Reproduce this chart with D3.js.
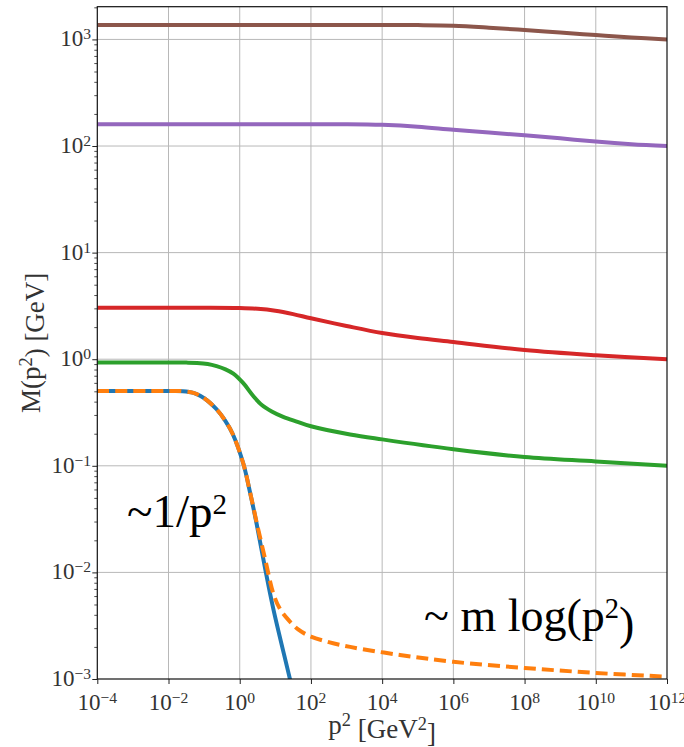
<!DOCTYPE html>
<html>
<head>
<meta charset="utf-8">
<script src="https://cdn.jsdelivr.net/npm/d3@7"></script>
<style>
  html, body { margin: 0; padding: 0; background: #fff; }
  svg { display: block; }
</style>
</head>
<body>
<svg id="chart" width="684" height="747"></svg>
<script>
// Running mass M(p^2) for several quark masses, log-log axes.

// x-axis tick values (p^2 in GeV^2) and y-axis tick values (M in GeV)
const xTickValues = [1e-4, 1e-2, 1e0, 1e2, 1e4, 1e6, 1e8, 1e10, 1e12];
const yTickValues = [1e-3, 1e-2, 1e-1, 1e0, 1e1, 1e2, 1e3];

// Chiral limit (solid blue)
const blueP2 = [1e-4, 1e-2, 0.0251, 0.0501, 0.0794, 0.126, 0.224, 0.398, 0.631, 1.259, 1.95, 3.02, 5.13, 8.71, 25.7, 63.1];
const blueM  = [0.503, 0.503, 0.501, 0.484, 0.452, 0.407, 0.339, 0.263, 0.200, 0.105, 0.0562, 0.0280, 0.0110, 0.00460, 0.00100, 0.00028];

// Small current mass (dashed orange)
const orangeP2 = [1e-4, 1e-2, 0.0251, 0.0501, 0.0794, 0.126, 0.224, 0.398, 0.631, 1.259, 1.95, 3.02, 5.13, 8.71, 13.2, 21.4, 44.7, 100, 316, 1.26e3, 3.16e4, 1e6, 1e8, 1e10, 1e12];
const orangeM  = [0.503, 0.503, 0.501, 0.484, 0.452, 0.407, 0.339, 0.263, 0.200, 0.105, 0.0565, 0.0290, 0.0135, 0.0064, 0.0046, 0.0037, 0.0029, 0.0025, 0.00222, 0.0020, 0.00168, 0.00145, 0.00127, 0.00114, 0.00105];

// Green
const greenP2 = [1e-4, 1e-2, 0.0316, 0.0631, 0.126, 0.224, 0.398, 0.661, 1.259, 2.40, 4.17, 7.94, 16.6, 39.8, 100, 1.26e3, 1e4, 1e6, 1e8, 1e10, 1e12];
const greenM  = [0.93, 0.93, 0.929, 0.923, 0.902, 0.861, 0.804, 0.733, 0.596, 0.452, 0.372, 0.324, 0.288, 0.260, 0.235, 0.197, 0.177, 0.143, 0.121, 0.110, 0.100];

// Red
const redP2 = [1e-4, 1e-2, 1e-1, 1e0, 3.2, 10, 31.6, 100, 1e3, 1e4, 1e5, 1e6, 1e8, 1e10, 1e12];
const redM  = [3.04, 3.04, 3.04, 3.02, 2.97, 2.85, 2.65, 2.42, 2.05, 1.76, 1.58, 1.45, 1.22, 1.09, 1.00];

// Purple
const purpleP2 = [1e-4, 1e0, 1e2, 1e3, 1e4, 1e5, 1e6, 1e7, 1e8, 1e9, 1e10, 1e11, 1e12];
const purpleM  = [160, 160, 160, 160, 158, 152, 142, 134, 126, 118, 110, 104, 100];

// Brown
const brownP2 = [1e-4, 1e0, 1e4, 1e5, 1e6, 1e7, 1e8, 1e9, 1e10, 1e11, 1e12];
const brownM  = [1365, 1365, 1365, 1362, 1345, 1290, 1225, 1160, 1100, 1045, 1000];

const seriesList = [
  { p2: brownP2,  m: brownM,  color: "#8c564b" },
  { p2: purpleP2, m: purpleM, color: "#9467bd" },
  { p2: redP2,    m: redM,    color: "#d62728" },
  { p2: greenP2,  m: greenM,  color: "#2ca02c" },
  { p2: blueP2,   m: blueM,   color: "#1f77b4" },
  { p2: orangeP2, m: orangeM, color: "#ff7f0e", dash: "12,6" }
];

const serif = "'Liberation Serif', 'DejaVu Serif', serif";
const svg = d3.select("#chart");

const plotLeft = 97.3, plotRight = 667, plotTop = 6.7, plotBottom = 679;
const x = d3.scaleLog().domain([1e-4, 1e12]).range([plotLeft, plotRight]);
const y = d3.scaleLog().domain([1e-3, Math.pow(10, 3.307)]).range([plotBottom, plotTop]);

const sup = v => {
  const e = Math.round(Math.log10(v));
  return e < 0 ? "\u2212" + (-e) : String(e);
};

// grid
const grid = svg.append("g");
grid.selectAll("line.gx").data(xTickValues.slice(1, -1)).join("line")
  .attr("x1", d => x(d)).attr("x2", d => x(d))
  .attr("y1", plotTop).attr("y2", plotBottom)
  .attr("stroke", "#b8b8b8").attr("stroke-width", 1);
grid.selectAll("line.gy").data(yTickValues.slice(1)).join("line")
  .attr("x1", plotLeft).attr("x2", plotRight)
  .attr("y1", d => y(d)).attr("y2", d => y(d))
  .attr("stroke", "#b8b8b8").attr("stroke-width", 1);

// curves
svg.append("defs").append("clipPath").attr("id", "plotClip")
  .append("rect").attr("x", plotLeft).attr("y", plotTop)
  .attr("width", plotRight - plotLeft).attr("height", plotBottom - plotTop);

const line = d3.line()
  .x(d => x(d[0])).y(d => y(d[1]))
  .curve(d3.curveCatmullRom.alpha(0.5));

const plot = svg.append("g").attr("clip-path", "url(#plotClip)");
seriesList.forEach(s => {
  const pts = s.p2.map((p, i) => [p, s.m[i]]);
  plot.append("path")
    .attr("d", line(pts))
    .attr("fill", "none")
    .attr("stroke", s.color)
    .attr("stroke-width", 4)
    .attr("stroke-dasharray", s.dash || null);
});

// axes (ticks only; labels drawn with superscripts below)
const xAxis = d3.axisBottom(x).tickValues(xTickValues).tickFormat("").tickSize(5).tickSizeOuter(0);
svg.append("g").attr("transform", `translate(0,${plotBottom})`).call(xAxis)
  .call(g => g.select(".domain").remove())
  .call(g => g.selectAll("line").attr("stroke", "#222").attr("stroke-width", 1));

const minorY = [];
for (let e = -3; e <= 3; e++) for (let k = 2; k <= 9; k++) {
  const v = k * Math.pow(10, e);
  if (v < y.domain()[1]) minorY.push(v);
}
svg.append("g").attr("transform", `translate(${plotLeft},0)`)
  .call(d3.axisLeft(y).tickValues(yTickValues).tickFormat("").tickSize(5).tickSizeOuter(0))
  .call(g => g.select(".domain").remove())
  .call(g => g.selectAll("line").attr("stroke", "#222").attr("stroke-width", 1));
svg.append("g").attr("transform", `translate(${plotLeft},0)`)
  .call(d3.axisLeft(y).tickValues(minorY).tickFormat("").tickSize(3).tickSizeOuter(0))
  .call(g => g.select(".domain").remove())
  .call(g => g.selectAll("line").attr("stroke", "#222").attr("stroke-width", 0.8));

// frame
svg.append("rect").attr("x", plotLeft).attr("y", plotTop)
  .attr("width", plotRight - plotLeft).attr("height", plotBottom - plotTop)
  .attr("fill", "none").attr("stroke", "#111").attr("stroke-width", 1.2);

// tick labels
function powerLabel(sel, v) {
  sel.append("tspan").text("10");
  sel.append("tspan").attr("dy", "-0.45em").attr("font-size", "0.68em").text(sup(v));
}
svg.append("g").selectAll("text").data(xTickValues).join("text")
  .attr("x", d => x(d)).attr("y", 710)
  .attr("text-anchor", "middle")
  .attr("font-family", serif).attr("font-size", 23).attr("fill", "#333")
  .each(function (d) { powerLabel(d3.select(this), d); });
svg.append("g").selectAll("text").data(yTickValues).join("text")
  .attr("x", 91).attr("y", d => y(d) + 7)
  .attr("text-anchor", "end")
  .attr("font-family", serif).attr("font-size", 23).attr("fill", "#333")
  .each(function (d) { powerLabel(d3.select(this), d); });

// axis titles
const xt = svg.append("text").attr("x", (plotLeft + plotRight) / 2).attr("y", 734)
  .attr("text-anchor", "middle").attr("font-family", serif)
  .attr("font-size", 27).attr("fill", "#333");
xt.append("tspan").text("p");
xt.append("tspan").attr("dy", "-0.45em").attr("font-size", "0.68em").text("2");
xt.append("tspan").attr("dy", "0.45em").text(" [GeV");
xt.append("tspan").attr("dy", "-0.45em").attr("font-size", "0.68em").text("2");
xt.append("tspan").attr("dy", "0.45em").text("]");

const yt = svg.append("text")
  .attr("transform", `translate(40,${(plotTop + plotBottom) / 2}) rotate(-90)`)
  .attr("text-anchor", "middle").attr("font-family", serif)
  .attr("font-size", 27).attr("fill", "#333");
yt.append("tspan").text("M(p");
yt.append("tspan").attr("dy", "-0.45em").attr("font-size", "0.68em").text("2");
yt.append("tspan").attr("dy", "0.45em").text(") [GeV]");

// asymptotic annotations
const a1 = svg.append("text").attr("x", 127).attr("y", 527)
  .attr("font-family", serif).attr("font-size", 47).attr("fill", "#000");
a1.append("tspan").text("~1/p");
a1.append("tspan").attr("dy", "-0.45em").attr("font-size", "0.62em").text("2");

const a2 = svg.append("text").attr("x", 424).attr("y", 631)
  .attr("font-family", serif).attr("font-size", 46).attr("fill", "#000");
a2.append("tspan").text("~ m log(p");
a2.append("tspan").attr("dy", "-0.45em").attr("font-size", "0.62em").text("2");
a2.append("tspan").attr("dy", "0.45em").text(")");
</script>
</body>
</html>
